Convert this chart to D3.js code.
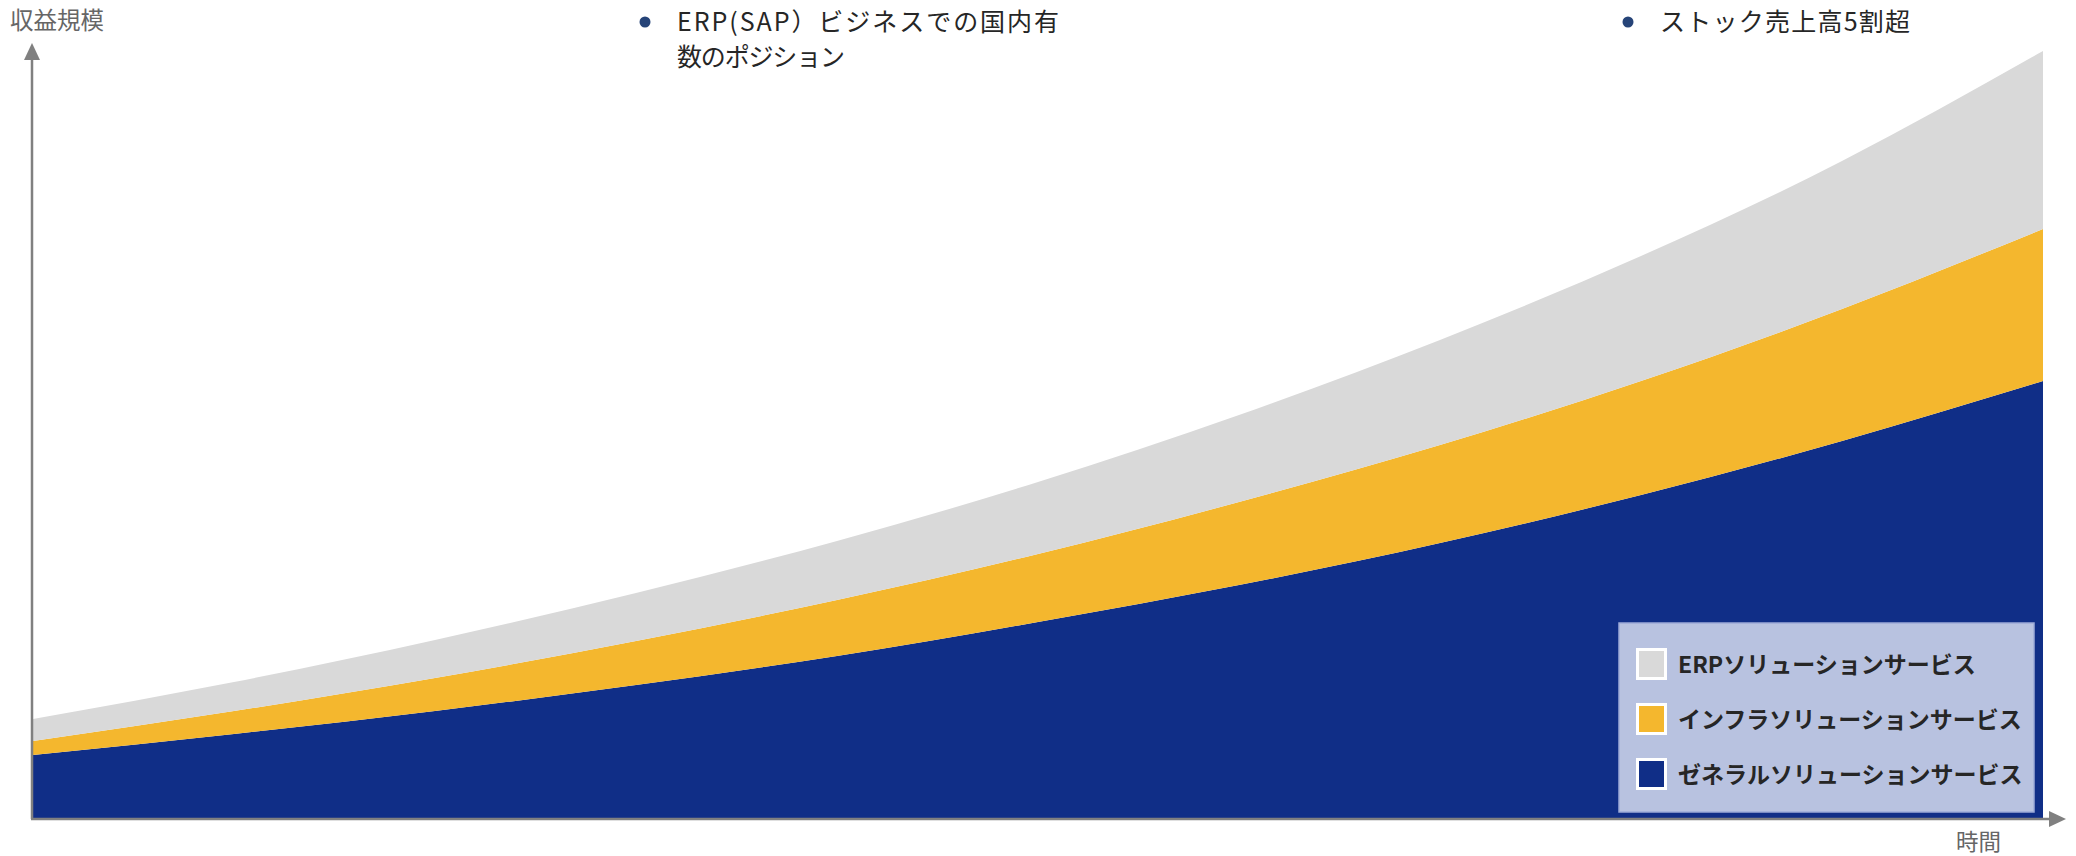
<!DOCTYPE html>
<html>
<head>
<meta charset="utf-8">
<script src="https://cdn.jsdelivr.net/npm/d3@7"></script>
<style>
  body { margin: 0; background: #ffffff; }
  svg { display: block; font-family: "Noto Sans CJK JP", "Noto Sans", sans-serif; }
</style>
</head>
<body>
<div id="chart"></div>
<script>
// data: time steps and stacked revenue per service (arbitrary units)
const timeSteps = [0, 1, 2, 3, 4, 5, 6, 7, 8, 9, 10]
const generalValues = [64, 85, 108, 134, 163, 197, 234, 276, 324, 378, 438]
const infraValues = [14, 23, 33, 44, 56, 68, 83, 98, 114, 132, 152]
const erpValues = [22, 29, 38, 48, 59, 72, 87, 105, 125, 148, 178]

const seriesKeys = ["general", "infra", "erp"]
const legendLabels = ["ERPソリューションサービス", "インフラソリューションサービス", "ゼネラルソリューションサービス"]
const legendKeys = ["erp", "infra", "general"]
const bulletTexts = [["ERP(SAP）ビジネスでの国内有", "数のポジション"], ["ストック売上高5割超"]]

// constants
const width = 2076
const height = 856
const colors = {general: "#102e87", infra: "#f4b72e", erp: "#d9d9d9"}

// table for d3.stack
var table = timeSteps.map(function(t, i) {
  return {t: t, general: generalValues[i], infra: infraValues[i], erp: erpValues[i]}
})

var xScale = d3.scaleLinear()
    .domain([0, 10])
    .range([33, 2043])

var yScale = d3.scaleLinear()
    .domain([0, 800])
    .range([819, 19])

var svg = d3.select("#chart")
  .append("svg")
    .attr("width", width)
    .attr("height", height)

// stacked areas
var stacked = d3.stack().keys(seriesKeys)(table)

var area = d3.area()
    .x(function(d) { return xScale(d.data.t) })
    .y0(function(d) { return yScale(d[0]) })
    .y1(function(d) { return yScale(d[1]) })
    .curve(d3.curveNatural)

svg.append("g")
    .attr("class", "areas")
  .selectAll("path")
    .data(stacked)
    .enter()
    .append("path")
    .attr("d", area)
    .attr("fill", function(d) { return colors[d.key] })

// axes with arrow heads
var axisColor = "#808080"
svg.append("line")
    .attr("x1", 32).attr("y1", yScale(0))
    .attr("x2", 32).attr("y2", 58)
    .attr("stroke", axisColor)
    .attr("stroke-width", 2.5)
svg.append("path")
    .attr("d", "M32,43 L24,60 L40,60 Z")
    .attr("fill", axisColor)
svg.append("line")
    .attr("x1", 31).attr("y1", yScale(0))
    .attr("x2", 2051).attr("y2", yScale(0))
    .attr("stroke", axisColor)
    .attr("stroke-width", 2.5)
svg.append("path")
    .attr("d", "M2066,819 L2049,811 L2049,827 Z")
    .attr("fill", axisColor)

// axis labels
svg.append("text")
    .attr("x", 10)
    .attr("y", 29)
    .attr("font-size", "23.5px")
    .attr("fill", "#666666")
    .text("収益規模")

svg.append("text")
    .attr("x", 1956)
    .attr("y", 850)
    .attr("font-size", "22.5px")
    .attr("fill", "#666666")
    .text("時間")

// bullet notes on top
var bulletPos = [{x: 645, y: 22, lengths: [382, 168]}, {x: 1628, y: 22, lengths: [250]}]
bulletTexts.forEach(function(lines, i) {
  var p = bulletPos[i]
  svg.append("circle")
      .attr("cx", p.x)
      .attr("cy", p.y)
      .attr("r", 5.5)
      .attr("fill", "#264478")
  svg.append("g")
    .selectAll("text")
      .data(lines)
      .enter()
      .append("text")
      .attr("x", p.x + 32)
      .attr("y", function(d, j) { return p.y + 9 + j * 35 })
      .attr("font-size", "25px")
      .attr("fill", "#262626")
      .attr("textLength", function(d, j) { return p.lengths[j] })
      .attr("lengthAdjust", "spacing")
      .text(function(d) { return d })
})

// legend
var legend = svg.append("g")
    .attr("class", "legend")

legend.append("rect")
    .attr("x", 1619)
    .attr("y", 623)
    .attr("width", 415)
    .attr("height", 189)
    .attr("fill", "#b8c2e0")
    .attr("stroke", "#9dabd8")
    .attr("stroke-width", 1.5)

var items = legend.selectAll(".item")
    .data(legendKeys)
    .enter()
    .append("g")
    .attr("class", "item")
    .attr("transform", function(d, i) { return "translate(1636," + (648 + i * 55) + ")" })

items.append("rect")
    .attr("x", 1.5)
    .attr("y", 1.5)
    .attr("width", 28)
    .attr("height", 29)
    .attr("fill", function(d) { return colors[d] })
    .attr("stroke", "#ffffff")
    .attr("stroke-width", 3)

items.append("text")
    .attr("x", 42)
    .attr("y", 25)
    .attr("font-size", "23px")
    .attr("font-weight", "bold")
    .attr("fill", "#262626")
    .text(function(d, i) { return legendLabels[i] })
</script>
</body>
</html>
